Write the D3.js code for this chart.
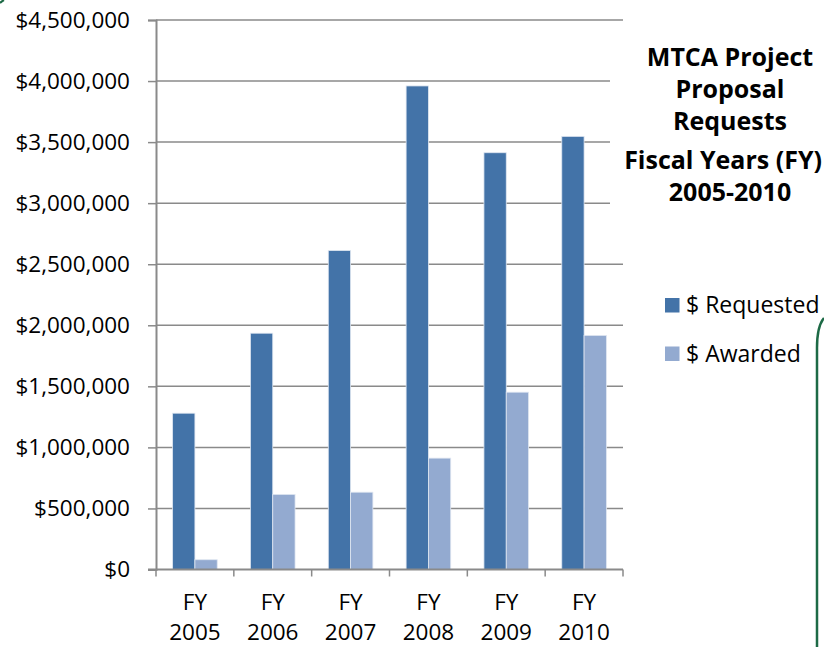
<html><head>
<script src="https://d3js.org/d3.v7.min.js"></script>
<style>
body { margin: 0; background: #fff; }
svg text { font-family: "Open Sans", sans-serif; fill: #000; }
</style>
</head>
<body>
<svg id="chart" width="824" height="647"></svg>
<script>
// chart values
const years = ["2005", "2006", "2007", "2008", "2009", "2010"];
const series = ["$ Requested", "$ Awarded"];
const requested = [1280000, 1935000, 2612000, 3960000, 3413000, 3547000];
const awarded = [80000, 615000, 633000, 912000, 1452000, 1917000];
const yTicks = [0, 500000, 1000000, 1500000, 2000000, 2500000, 3000000, 3500000, 4000000, 4500000];
const titleLines = ["MTCA Project", "Proposal", "Requests", "Fiscal Years (FY)", "2005-2010"];

const colors = { "$ Requested": "#4373a8", "$ Awarded": "#93aad0" };
const gridColor = "#8a8a8a";

const svg = d3.select("#chart");
const margin = { left: 156, right: 201, top: 20, bottom: 77.5 };
const W = +svg.attr("width"), H = +svg.attr("height");

const rows = years.map((yr, i) => ({ year: yr, "$ Requested": requested[i], "$ Awarded": awarded[i] }));

const x = d3.scaleBand().domain(years)
    .range([margin.left, W - margin.right])
    .paddingInner(0.427).paddingOuter(0.2135);
const x1 = d3.scaleBand().domain(series).range([0, x.bandwidth()]);
const y = d3.scaleLinear().domain([0, 4500000]).range([H - margin.bottom, margin.top]);

//gridlines
svg.append("g").selectAll("line").data(yTicks.slice(1))
    .join("line")
    .attr("x1", margin.left).attr("x2", W - margin.right)
    .attr("y1", d => y(d)).attr("y2", d => y(d))
    .attr("stroke", gridColor).attr("stroke-width", 1.5);

//white box behind the title hides part of the gridlines
svg.append("rect")
    .attr("x", 610).attr("y", 30).attr("width", 214).attr("height", 220)
    .attr("fill", "#fff");

//bars
svg.append("g").selectAll("g").data(rows)
    .join("g")
    .attr("transform", d => "translate(" + x(d.year) + ",0)")
    .selectAll("rect").data(d => series.map(s => ({ key: s, value: d[s] })))
    .join("rect")
    .attr("x", d => x1(d.key))
    .attr("width", x1.bandwidth())
    .attr("y", d => y(d.value))
    .attr("height", d => y(0) - y(d.value))
    .attr("fill", d => colors[d.key])
    .attr("stroke", "#dfe6f1").attr("stroke-width", 0.8);

//y axis
const yAxis = svg.append("g")
    .attr("transform", "translate(" + margin.left + ",0)")
    .call(d3.axisLeft(y).tickValues(yTicks)
        .tickFormat(d => "$" + d3.format(",")(d))
        .tickSize(8).tickPadding(18));
yAxis.select(".domain").attr("stroke", gridColor).attr("stroke-width", 2);
yAxis.selectAll(".tick line").attr("stroke", gridColor).attr("stroke-width", 1.5);
yAxis.selectAll(".tick text")
    .style("font-size", "22.5px").attr("font-family", null);

//x axis with ticks between categories
const xAxisY = y(0);
svg.append("line")
    .attr("x1", margin.left - 8).attr("x2", W - margin.right)
    .attr("y1", xAxisY).attr("y2", xAxisY)
    .attr("stroke", gridColor).attr("stroke-width", 2);
svg.append("g").selectAll("line").data(d3.range(years.length + 1))
    .join("line")
    .attr("x1", i => margin.left + i * x.step())
    .attr("x2", i => margin.left + i * x.step())
    .attr("y1", xAxisY).attr("y2", xAxisY + 7)
    .attr("stroke", gridColor).attr("stroke-width", 1.5);

const xLabels = svg.append("g").selectAll("text").data(years)
    .join("text")
    .attr("text-anchor", "middle")
    .style("font-size", "22.5px");
xLabels.append("tspan")
    .attr("x", d => x(d) + x.bandwidth() / 2).attr("y", 610)
    .text("FY");
xLabels.append("tspan")
    .attr("x", d => x(d) + x.bandwidth() / 2).attr("y", 640)
    .text(d => d);

//title
svg.append("g").selectAll("text").data(titleLines)
    .join("text")
    .attr("x", (d, i) => i === 3 ? 822 : 730)
    .attr("text-anchor", (d, i) => i === 3 ? "end" : "middle")
    .attr("y", (d, i) => [66, 98, 130, 169, 201][i])
    .style("font-size", "25px").style("font-weight", "bold")
    .text(d => d);

//legend
const legend = svg.append("g").selectAll("g").data(series)
    .join("g")
    .attr("transform", (d, i) => "translate(665," + (298 + i * 48.5) + ")");
legend.append("rect")
    .attr("width", 14.5).attr("height", 14.5)
    .attr("fill", d => colors[d]);
legend.append("text")
    .attr("x", 21).attr("y", 15)
    .style("font-size", "23px")
    .text(d => d);

//green border of the neighbouring box
svg.append("path")
    .attr("d", "M824,318 Q817,326 817,348 L817,647")
    .attr("fill", "none").attr("stroke", "#1d6a46").attr("stroke-width", 2.5);
svg.append("path")
    .attr("d", "M0,3 Q2,1 4,0")
    .attr("fill", "none").attr("stroke", "#1d6a46").attr("stroke-width", 2);
</script>
</body>
</html>
